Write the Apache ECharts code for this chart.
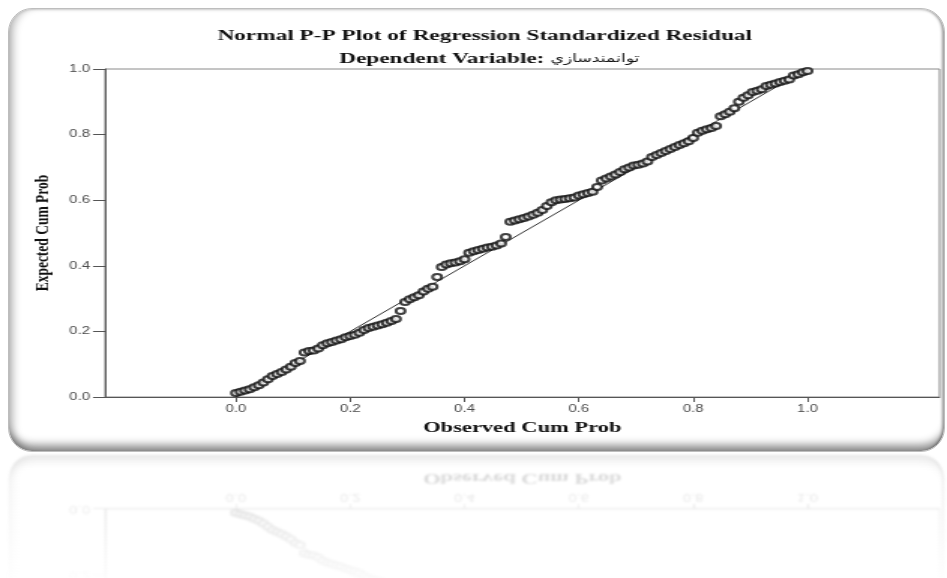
<!DOCTYPE html>
<html>
<head>
<meta charset="utf-8">
<script src="https://cdn.jsdelivr.net/npm/echarts@6/dist/echarts.min.js"></script>
<style>
  html, body { margin: 0; padding: 0; background: #fff; width: 947px; height: 578px; overflow: hidden; }
  .panel { position: absolute; left: 0; top: 0; width: 947px; height: 453px; }
  .frame {
    position: absolute; left: 8px; top: 8px; width: 935px; height: 442px;
    border: 1px solid #bdbdbd; border-radius: 24px; background: #fff;
    box-shadow:
      inset 9px 0 9px -5px rgba(0,0,0,0.28),
      inset 0 -11px 9px -5px rgba(0,0,0,0.45),
      inset -3px 0 3px -1px rgba(0,0,0,0.35),
      inset 0 3px 3px -2px rgba(0,0,0,0.12);
  }
  /* chart is laid out narrow and widened, giving the wide lettering and oval markers */
  .chart { position: absolute; left: 0; top: 0; width: 631px; height: 453px; transform-origin: 0 0; transform: scaleX(1.50079); }
  #mirror {
    position: absolute; left: 0; top: 453px; width: 947px; height: 125px; overflow: hidden;
    -webkit-mask-image: linear-gradient(to bottom, #000 0%, rgba(0,0,0,0.12) 100%);
    mask-image: linear-gradient(to bottom, #000 0%, rgba(0,0,0,0.12) 100%);
  }
  #mirror .panel { transform: scaleY(-1); opacity: 0.2; filter: blur(1.1px); }
  #mirror .frame { border-color: #e6e6e6; }
</style>
</head>
<body>
<div class="panel">
  <div class="frame"></div>
  <div class="chart" id="main"></div>
</div>
<div id="mirror">
  <div class="panel">
    <div class="frame"></div>
    <div class="chart" id="reflection"></div>
  </div>
</div>
<script>
// Observed cumulative probability of each case
const obsCumProb = [
  0.000,0.008,0.016,0.024,0.032,0.040,0.048,0.056,0.064,0.072,
  0.080,0.088,0.096,0.104,0.112,0.120,0.128,0.136,0.144,0.152,
  0.160,0.168,0.176,0.184,0.192,0.200,0.208,0.216,0.224,0.232,
  0.240,0.248,0.256,0.264,0.272,0.280,0.288,0.296,0.304,0.312,
  0.320,0.328,0.336,0.344,0.352,0.360,0.368,0.376,0.384,0.392,
  0.400,0.408,0.416,0.424,0.432,0.440,0.448,0.456,0.464,0.472,
  0.480,0.488,0.496,0.504,0.512,0.520,0.528,0.536,0.544,0.552,
  0.560,0.568,0.576,0.584,0.592,0.600,0.608,0.616,0.624,0.632,
  0.640,0.648,0.656,0.664,0.672,0.680,0.688,0.696,0.704,0.712,
  0.720,0.728,0.736,0.744,0.752,0.760,0.768,0.776,0.784,0.792,
  0.800,0.808,0.816,0.824,0.832,0.840,0.848,0.856,0.864,0.872,
  0.880,0.888,0.896,0.904,0.912,0.920,0.928,0.936,0.944,0.952,
  0.960,0.968,0.976,0.984,0.992,1.000
];
// Expected cumulative probability under normality
const expCumProb = [
  0.012,0.016,0.020,0.024,0.030,0.036,0.044,0.054,0.064,0.070,
  0.076,0.084,0.092,0.104,0.110,0.136,0.140,0.142,0.148,0.158,
  0.164,0.168,0.172,0.176,0.182,0.186,0.190,0.196,0.204,0.210,
  0.214,0.218,0.222,0.226,0.232,0.238,0.262,0.290,0.298,0.304,
  0.310,0.322,0.330,0.336,0.366,0.396,0.404,0.408,0.410,0.414,
  0.420,0.440,0.444,0.448,0.452,0.456,0.458,0.462,0.468,0.488,
  0.534,0.538,0.542,0.546,0.550,0.556,0.562,0.570,0.582,0.594,
  0.600,0.602,0.604,0.606,0.608,0.614,0.618,0.622,0.626,0.640,
  0.660,0.666,0.672,0.678,0.686,0.694,0.700,0.706,0.708,0.712,
  0.718,0.732,0.738,0.744,0.750,0.756,0.762,0.768,0.774,0.780,
  0.790,0.806,0.812,0.816,0.820,0.826,0.856,0.862,0.870,0.880,
  0.900,0.912,0.920,0.930,0.934,0.938,0.948,0.952,0.956,0.960,
  0.964,0.968,0.980,0.984,0.990,0.994
];
// Reference diagonal (perfect normality)
const diagX = [0, 1];
const diagY = [0, 1];
// Tick positions on both axes
const tickValues = [0, 0.2, 0.4, 0.6, 0.8, 1.0];

const titleLine1 = 'Normal P-P Plot of Regression Standardized Residual';
const titleLabel2 = 'Dependent Variable: ';
const dependentName = 'توانمندسازي';

const serif = "'Liberation Serif', 'Times New Roman', 'DejaVu Sans', serif";
const sans = "'Liberation Sans', Arial, sans-serif";

function buildOption() {
  const points = obsCumProb.map((x, i) => [x, expCumProb[i]]);
  const diag = diagX.map((x, i) => [x, diagY[i]]);
  const titleStyle = { fontFamily: serif, fontWeight: 'bold', fontSize: 15.5, color: '#111' };
  return {
    animation: false,
    backgroundColor: 'transparent',
    title: [
      { text: titleLine1, left: 318, top: 23, textAlign: 'center', textStyle: titleStyle },
      { text: '{a|' + titleLabel2 + '}{b|' + dependentName + '}', left: 321, top: 46, textAlign: 'center',
        textStyle: {
          rich: {
            a: { fontFamily: serif, fontWeight: 'bold', fontSize: 15.5, color: '#111' },
            b: { fontFamily: "'DejaVu Sans', sans-serif", fontWeight: 'normal', fontSize: 11.5, color: '#111' }
          }
        } }
    ],
    grid: { left: 70, right: 5, top: 69, bottom: 56, show: true, borderColor: '#8a8a8a', borderWidth: 1 },
    xAxis: {
      type: 'value', min: -0.229, max: 1.231,
      name: 'Observed Cum Prob', nameLocation: 'middle', nameGap: 24,
      nameTextStyle: { fontFamily: serif, fontWeight: 'bold', fontSize: 15, color: '#111' },
      axisLine: { show: true, onZero: false, lineStyle: { color: '#555', width: 1 } },
      axisTick: { show: true, length: 5, customValues: tickValues, lineStyle: { color: '#555' } },
      axisLabel: { customValues: tickValues, margin: 7, fontFamily: sans, fontSize: 10, color: '#4a4a4a',
                   formatter: v => v.toFixed(1) },
      splitLine: { show: false }
    },
    yAxis: {
      type: 'value', min: 0, max: 1, interval: 0.2,
      name: 'Expected Cum Prob', nameLocation: 'middle', nameGap: 27, nameRotate: 90,
      nameTextStyle: { fontFamily: serif, fontWeight: 'bold', fontSize: 13.5, color: '#111' },
      axisLine: { show: true, onZero: false, lineStyle: { color: '#555', width: 1 } },
      axisTick: { show: true, length: 8, lineStyle: { color: '#555' } },
      axisLabel: { margin: 10, fontFamily: sans, fontSize: 10, color: '#4a4a4a',
                   formatter: v => v.toFixed(1) },
      splitLine: { show: false }
    },
    series: [
      { type: 'line', data: diag, showSymbol: false, symbol: 'none',
        lineStyle: { color: '#333', width: 1 }, z: 2 },
      { type: 'scatter', data: points, symbol: 'emptyCircle', symbolSize: 6,
        itemStyle: { color: '#111', borderColor: '#111', borderWidth: 1.5 }, z: 3 }
    ]
  };
}

echarts.init(document.getElementById('main'), null, { renderer: 'canvas' }).setOption(buildOption());
echarts.init(document.getElementById('reflection'), null, { renderer: 'canvas' }).setOption(buildOption());
</script>
</body>
</html>
